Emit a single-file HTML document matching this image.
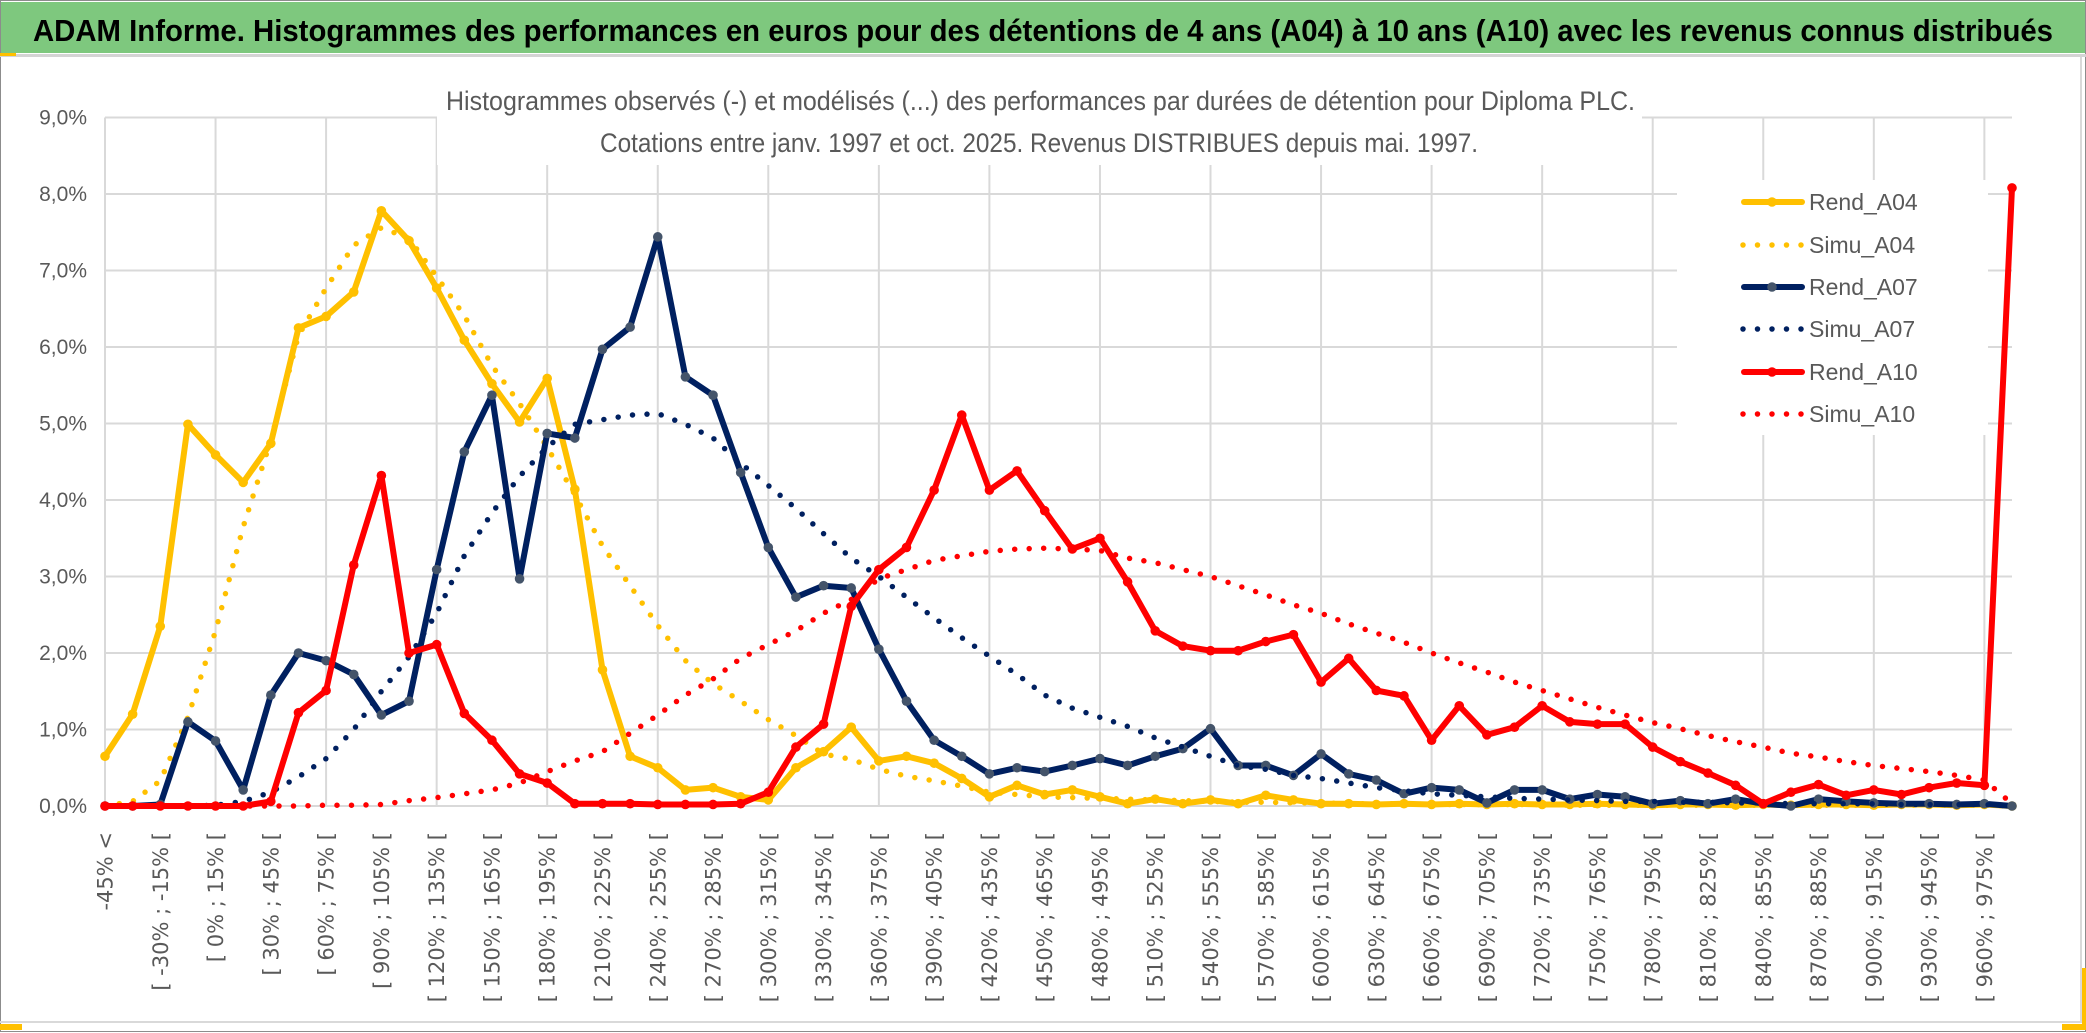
<!DOCTYPE html>
<html><head><meta charset="utf-8"><title>ADAM Informe</title>
<style>
html,body{margin:0;padding:0;background:#fff;}
svg{display:block;}
</style></head>
<body>
<svg id="chart" xmlns="http://www.w3.org/2000/svg" width="2086" height="1033" viewBox="0 0 2086 1033">
  <rect x="0" y="0" width="2086" height="1033" fill="#ffffff"/>
  <rect x="0.5" y="0.5" width="2085" height="1031" fill="none" stroke="#8c8c8c" stroke-width="1"/>
  <rect x="1" y="2" width="2084" height="51" fill="#7ec87e"/>
  <rect x="0" y="54" width="2086" height="3" fill="#d4d4d4"/>
  <rect x="0" y="53" width="16" height="3" fill="#ffc000"/>
  <text x="33" y="41" font-family="'Liberation Sans Narrow','Liberation Sans',sans-serif" font-weight="bold" font-size="31" fill="#000" textLength="2020" lengthAdjust="spacingAndGlyphs">ADAM Informe. Histogrammes des performances en euros pour des détentions de 4 ans (A04) à 10 ans (A10) avec les revenus connus distribués</text>
  <rect x="0" y="1021" width="2083" height="2" fill="#d9d9d9"/>
  <rect x="2080" y="57" width="2" height="966" fill="#d9d9d9"/>
  <rect x="0" y="1024" width="22" height="6" fill="#ffc000"/>
  <rect x="2082" y="968" width="4" height="58" fill="#ffc000"/>
  <rect x="2062" y="1024" width="24" height="6" fill="#ffc000"/>
  <g id="grid"></g>
  <rect x="437" y="60" width="1205" height="105" fill="#ffffff"/>
  <text x="446" y="110" font-family="'Liberation Sans Narrow','Liberation Sans',sans-serif" font-size="27" fill="#595959" textLength="1189" lengthAdjust="spacingAndGlyphs">Histogrammes observés (-) et modélisés (...) des performances par durées de détention pour Diploma PLC.</text>
  <text x="600" y="152" font-family="'Liberation Sans Narrow','Liberation Sans',sans-serif" font-size="27" fill="#595959" textLength="878" lengthAdjust="spacingAndGlyphs">Cotations entre janv. 1997 et oct. 2025. Revenus DISTRIBUES depuis mai. 1997.</text>
  <g id="yaxis"></g>
  <g id="xaxis"></g>
  <rect x="1677" y="180" width="311" height="255" fill="#ffffff"/>
  <g id="series"></g>
  <g id="legend"></g>
</svg>
<script>
const categoryStarts = [];
for (let v = -45; v <= 960; v += 15) categoryStarts.push(v);
const yTicks = [0,1,2,3,4,5,6,7,8,9];
const yTickLabels = ["0,0%","1,0%","2,0%","3,0%","4,0%","5,0%","6,0%","7,0%","8,0%","9,0%"];

const rendA04 = [0.65,1.20,2.35,4.99,4.59,4.23,4.74,6.25,6.40,6.72,7.78,7.39,6.77,6.09,5.52,5.02,5.59,4.14,
 1.78,0.65,0.50,0.21,0.24,0.12,0.08,0.50,0.71,1.03,0.59,0.65,0.56,0.36,0.12,0.27,0.15,0.21,
 0.12,0.03,0.09,0.03,0.08,0.03,0.14,0.08,0.03,0.03,0.02,0.03,0.02,0.03,0.02,0.03,0.02,
 0.02,0.03,0.02,0.01,0.02,0.02,0.01,0.02,0.01,0.02,0.02,0.01,0.02,0.02,0.01,0.02,0.0];
const simuA04 = [0.0,0.06,0.33,1.16,2.29,3.65,4.78,6.15,6.77,7.33,7.56,7.42,6.92,6.41,5.76,5.26,4.69,4.07,
 3.40,2.88,2.36,1.90,1.60,1.37,1.13,0.92,0.68,0.61,0.48,0.39,0.33,0.26,0.18,0.15,0.12,0.11,
 0.10,0.09,0.08,0.07,0.06,0.05,0.05,0.04,0.04,0.03,0.03,0.03,0.02,0.02,0.02,0.02,0.02,
 0.01,0.01,0.01,0.01,0.01,0.01,0.01,0.01,0.01,0.01,0.01,0.01,0.01,0.01,0.01,0.01,0.0];
const rendA07 = [0,0,0.02,1.10,0.85,0.21,1.45,2.00,1.90,1.72,1.19,1.37,3.09,4.63,5.37,2.97,4.87,4.81,
 5.97,6.26,7.44,5.61,5.37,4.36,3.38,2.73,2.88,2.85,2.05,1.37,0.86,0.65,0.42,0.50,0.45,0.53,
 0.62,0.53,0.65,0.75,1.01,0.53,0.53,0.40,0.68,0.42,0.34,0.16,0.24,0.21,0.04,0.21,0.21,
 0.09,0.15,0.12,0.03,0.07,0.03,0.09,0.03,0,0.09,0.06,0.04,0.03,0.03,0.02,0.03,0];
const simuA07 = [0,0,0,0,0.01,0.06,0.18,0.38,0.62,1.00,1.50,1.95,2.52,3.27,3.83,4.31,4.69,4.99,
 5.05,5.11,5.13,4.99,4.81,4.48,4.19,3.89,3.56,3.24,3.00,2.73,2.46,2.20,1.96,1.72,1.45,1.28,
 1.16,1.04,0.89,0.77,0.65,0.53,0.48,0.40,0.36,0.30,0.24,0.20,0.16,0.14,0.12,0.10,0.09,
 0.08,0.07,0.06,0.06,0.05,0.05,0.04,0.04,0.03,0.03,0.03,0.03,0.02,0.02,0.02,0.02,0];
const rendA10 = [0,0,0,0,0,0,0.06,1.22,1.51,3.15,4.32,2.00,2.11,1.21,0.86,0.42,0.30,0.03,
 0.03,0.03,0.02,0.02,0.02,0.03,0.18,0.77,1.07,2.61,3.09,3.38,4.13,5.11,4.13,4.38,3.86,3.36,
 3.50,2.93,2.29,2.09,2.03,2.03,2.15,2.24,1.62,1.93,1.51,1.44,0.86,1.31,0.93,1.03,1.31,
 1.10,1.07,1.07,0.77,0.58,0.43,0.27,0.03,0.18,0.28,0.14,0.21,0.15,0.24,0.30,0.27,8.08];
const simuA10 = [0,0,0,0,0,0,0,0,0.01,0.01,0.02,0.07,0.11,0.16,0.21,0.30,0.45,0.59,
 0.71,0.95,1.19,1.45,1.66,1.93,2.11,2.29,2.52,2.70,2.97,3.09,3.21,3.27,3.33,3.36,3.37,3.36,
 3.34,3.24,3.18,3.09,3.00,2.88,2.76,2.63,2.52,2.38,2.26,2.14,2.00,1.87,1.75,1.62,1.51,
 1.40,1.29,1.19,1.09,1.01,0.92,0.84,0.77,0.69,0.64,0.58,0.53,0.49,0.45,0.40,0.34,0.03];

const NS = "http://www.w3.org/2000/svg";
const X0 = 105, X1 = 2012, Y0 = 806, YTOP = 117.5;
const nCat = 70;
function xPos(i){ return X0 + i * (X1 - X0) / (nCat - 1); }
function yPos(v){ return Y0 - v * (Y0 - YTOP) / 9; }
function mk(tag, attrs, parent){
  const e = document.createElementNS(NS, tag);
  for (const k in attrs) e.setAttribute(k, attrs[k]);
  parent.appendChild(e);
  return e;
}
function catLabel(i){
  if (i === 0) return "-45% <";
  const a = categoryStarts[i-1];
  return "[ " + a + "% ; " + (a + 15) + "% [";
}

const grid = document.getElementById("grid");
yTicks.forEach(function(t){
  const l = mk("line", {x1:X0, x2:X1, y1:yPos(t), y2:yPos(t), stroke:"#d9d9d9", "stroke-width":2}, grid);
  
  
});
for (let i = 0; i < nCat; i += 4) {
  const l = mk("line", {x1:xPos(i), x2:xPos(i), y1:YTOP, y2:Y0, stroke:"#d9d9d9", "stroke-width":2}, grid);
  
  
}

const yaxis = document.getElementById("yaxis");
yTicks.forEach(function(t, k){
  const tx = mk("text", {x:87, y:yPos(t)+7, "text-anchor":"end", "font-family":"'Liberation Sans Narrow','Liberation Sans',sans-serif", "font-size":21, fill:"#595959"}, yaxis);
  
  
  tx.textContent = yTickLabels[k];
});

const xaxis = document.getElementById("xaxis");
for (let i = 0; i < nCat - 1; i += 2) {
  const x = xPos(i) + 7.5, y = 832;
  const tx = mk("text", {x:x, y:y, "text-anchor":"end", transform:"rotate(-90 " + x + " " + y + ")", "font-family":"'DejaVu Sans',sans-serif", "font-size":21, fill:"#595959"}, xaxis);
  
  
  tx.textContent = catLabel(i);
}

const seriesLayer = document.getElementById("series");
const seriesDefs = [
  {name:"Rend_A04", data:rendA04, color:"#ffc000", marker:"#ffc000", dotted:false},
  {name:"Simu_A04", data:simuA04, color:"#ffc000", dotted:true},
  {name:"Rend_A07", data:rendA07, color:"#002060", marker:"#44546a", dotted:false},
  {name:"Simu_A07", data:simuA07, color:"#002060", dotted:true},
  {name:"Rend_A10", data:rendA10, color:"#ff0000", marker:"#ff0000", dotted:false},
  {name:"Simu_A10", data:simuA10, color:"#ff0000", dotted:true}
];
seriesDefs.forEach(function(s){
  const g = mk("g", {}, seriesLayer);
  
  
  const pts = s.data.map(function(v, i){ return xPos(i).toFixed(1) + "," + yPos(v).toFixed(1); }).join(" ");
  const attrs = {points:pts, fill:"none", stroke:s.color, "stroke-linejoin":"round", "stroke-linecap":"round"};
  if (s.dotted) { attrs["stroke-width"] = 5.5; attrs["stroke-dasharray"] = "0 14.5"; }
  else { attrs["stroke-width"] = 6; }
  const pl = mk("polyline", attrs, g);
  
  
  if (!s.dotted) {
    s.data.forEach(function(v, i){
      const c = mk("circle", {cx:xPos(i), cy:yPos(v), r:4.8, fill:s.marker}, g);
      
      
    });
  }
});

const legend = document.getElementById("legend");
const legendRows = [202, 245, 287, 329, 372, 414];
seriesDefs.forEach(function(s, k){
  const y = legendRows[k];
  const g = mk("g", {}, legend);
  
  
  if (s.dotted) {
    const l = mk("line", {x1:1743, x2:1803, y1:y, y2:y, stroke:s.color, "stroke-width":5.5, "stroke-linecap":"round", "stroke-dasharray":"0 14.5"}, g);
    
    
  } else {
    const l = mk("line", {x1:1744, x2:1802, y1:y, y2:y, stroke:s.color, "stroke-width":6, "stroke-linecap":"round"}, g);
    
    
    const c = mk("circle", {cx:1772, cy:y, r:4.8, fill:s.marker}, g);
    
    
  }
  const t = mk("text", {x:1809, y:y+8, "font-family":"'Liberation Sans',sans-serif", "font-size":23, fill:"#595959"}, g);
  
  
  t.textContent = s.name;
});
</script>
</body></html>
